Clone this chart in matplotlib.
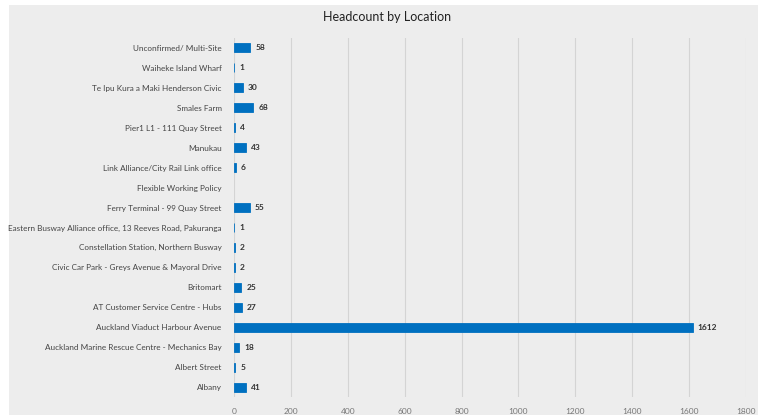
import matplotlib
matplotlib.use("Agg")
import matplotlib.pyplot as plt
from matplotlib.patches import Rectangle

locations = [
    "Albany",
    "Albert Street",
    "Auckland Marine Rescue Centre - Mechanics Bay",
    "Auckland Viaduct Harbour Avenue",
    "AT Customer Service Centre - Hubs",
    "Britomart",
    "Civic Car Park - Greys Avenue & Mayoral Drive",
    "Constellation Station, Northern Busway",
    "Eastern Busway Alliance office, 13 Reeves Road, Pakuranga",
    "Ferry Terminal - 99 Quay Street",
    "Flexible Working Policy",
    "Link Alliance/City Rail Link office",
    "Manukau",
    "Pier1 L1 - 111 Quay Street",
    "Smales Farm",
    "Te Ipu Kura a Maki Henderson Civic",
    "Waiheke Island Wharf",
    "Unconfirmed/ Multi-Site",
]
headcount = [41, 5, 18, 1612, 27, 25, 2, 2, 1, 55, None, 6, 43, 4, 68, 30, 1, 58]
xticks = [0, 200, 400, 600, 800, 1000, 1200, 1400, 1600, 1800]

W, H = 758, 415
fig = plt.figure(figsize=(W / 100, H / 100), dpi=100)
fig.patch.set_facecolor("white")
bg = "#ededed"
fig.patches.append(Rectangle((9 / W, 0), 1 - 9 / W, 1 - 5 / H, transform=fig.transFigure,
                             facecolor=bg, edgecolor="none", zorder=-10))

font = ["Lato", "DejaVu Sans"]
ax = fig.add_axes([234 / W, 1 - 397 / H, (746 - 234) / W, (397 - 38) / H])
ax.set_facecolor(bg)

ypos = list(range(len(locations)))
vals = [v if v is not None else 0 for v in headcount]
widths = [v if v else 0 for v in vals]
ax.barh(ypos, widths, height=0.45, color="#0070C0", edgecolor=["#0070C0" if v else "none" for v in vals],
        linewidth=0.6, zorder=3)
for y, v in zip(ypos, headcount):
    if v is None:
        continue
    ax.text(v + 18, y, str(v), va="center", ha="left", fontsize=6,
            fontweight="bold", color="#333333", family=font)

ax.set_xlim(0, 1800)
ax.set_ylim(-0.5, len(locations) - 0.5)
ax.set_xticks(xticks)
ax.set_xticklabels([str(t) for t in xticks], fontsize=6, color="#777777", family=font)
ax.set_yticks(ypos)
ax.set_yticklabels(locations, fontsize=5.85, color="#444444", family=font)
ax.tick_params(axis="both", length=0)
ax.tick_params(axis="x", pad=8)
ax.tick_params(axis="y", pad=9)
ax.grid(axis="x", color="#d4d4d4", linewidth=0.8, zorder=0)
for s in ax.spines.values():
    s.set_visible(False)

fig.text(0.5 + 8 / W, 1 - 17 / H, "Headcount by Location", ha="center", va="center",
         fontsize=9, color="#222222", family=font)

fig.savefig("out.png", dpi=100, facecolor=fig.get_facecolor())
